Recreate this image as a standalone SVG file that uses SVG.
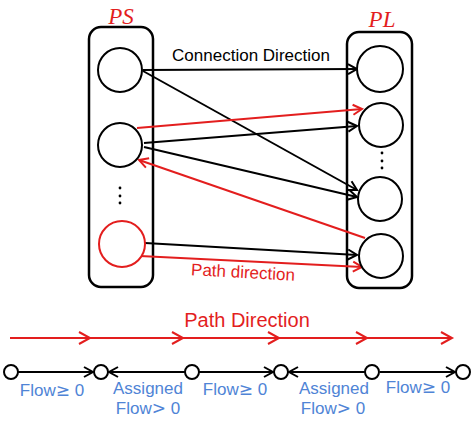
<svg xmlns="http://www.w3.org/2000/svg" width="474" height="423" viewBox="0 0 474 423">
<defs>
<style>
.box{fill:none;stroke:#000;stroke-width:2.5}
.nd{fill:#fff;stroke:#000;stroke-width:2}
.ndr{fill:#fff;stroke:#e31e1e;stroke-width:2}
.bk{stroke:#000;stroke-width:2;fill:none}
.rd{stroke:#e31e1e;stroke-width:2;fill:none}
.lbl{font-family:"Liberation Sans",Arial,sans-serif}
.blue{fill:#4f84d6;font-size:17px;text-anchor:middle}
.sym{font-family:"DejaVu Sans",sans-serif}
.math{font-family:"Liberation Serif","DejaVu Serif",serif;font-style:italic;fill:#e31e1e;font-size:23px;text-anchor:middle}
.dot{fill:#000}
</style>
<marker id="ab" markerUnits="userSpaceOnUse" markerWidth="14" markerHeight="14" refX="10" refY="6" orient="auto" viewBox="0 0 14 12">
<path d="M1,1 L10,6 L1,11" fill="none" stroke="#000" stroke-width="2"/>
</marker>
<marker id="ar" markerUnits="userSpaceOnUse" markerWidth="14" markerHeight="14" refX="10" refY="6" orient="auto" viewBox="0 0 14 12">
<path d="M1,1 L10,6 L1,11" fill="none" stroke="#e31e1e" stroke-width="2"/>
</marker>
<marker id="arb" markerUnits="userSpaceOnUse" markerWidth="16" markerHeight="16" refX="12" refY="7" orient="auto" viewBox="0 0 16 14">
<path d="M1,1 L12,7 L1,13" fill="none" stroke="#e31e1e" stroke-width="2"/>
</marker>
</defs>

<g id="PS">
<rect class="box" x="89" y="27" width="64" height="260" rx="12"/>
<text class="math" x="121" y="24">PS</text>
</g>
<g id="PL">
<rect class="box" x="347" y="32" width="65" height="256" rx="12"/>
<text class="math" x="382" y="27">PL</text>
</g>

<g id="connectors">
<line class="bk" x1="143" y1="70" x2="357" y2="69" marker-end="url(#ab)"/>
<line class="bk" x1="143" y1="71" x2="357" y2="190" marker-end="url(#ab)"/>
<line class="bk" x1="144" y1="143" x2="357" y2="126" marker-end="url(#ab)"/>
<line class="bk" x1="144" y1="147" x2="357" y2="197" marker-end="url(#ab)"/>
<line class="rd" x1="137" y1="128" x2="362" y2="109" marker-end="url(#ar)"/>
<line class="rd" x1="365" y1="238" x2="139" y2="160" marker-end="url(#ar)"/>
<line class="bk" x1="145" y1="243" x2="357" y2="255" marker-end="url(#ab)"/>
<line class="rd" x1="140" y1="256" x2="362" y2="267" marker-end="url(#ar)"/>
<g id="bottom-path">
<line class="rd" x1="10" y1="338" x2="90" y2="338" marker-end="url(#arb)"/>
<line class="rd" x1="90" y1="338" x2="183" y2="338" marker-end="url(#arb)"/>
<line class="rd" x1="183" y1="338" x2="279" y2="338" marker-end="url(#arb)"/>
<line class="rd" x1="279" y1="338" x2="367" y2="338" marker-end="url(#arb)"/>
<line class="rd" x1="367" y1="338" x2="452" y2="338" marker-end="url(#arb)"/>
</g>
<g id="bottom-flow">
<line class="bk" x1="18" y1="372" x2="93" y2="372" marker-end="url(#ab)"/>
<line class="bk" x1="185" y1="372" x2="109" y2="372" marker-end="url(#ab)"/>
<line class="bk" x1="199" y1="372" x2="273" y2="372" marker-end="url(#ab)"/>
<line class="bk" x1="365" y1="372" x2="289" y2="372" marker-end="url(#ab)"/>
<line class="bk" x1="380" y1="372" x2="455" y2="372" marker-end="url(#ab)"/>
</g>
</g>

<g id="ps1"><circle class="nd" cx="120" cy="70" r="22"/></g>
<g id="ps2"><circle class="nd" cx="120" cy="145" r="22"/></g>
<g id="ps-dots"><circle class="dot" cx="120" cy="188" r="1.4"/><circle class="dot" cx="120" cy="196" r="1.4"/><circle class="dot" cx="120" cy="203" r="1.4"/></g>
<g id="ps3"><circle class="ndr" cx="122" cy="244" r="23"/></g>

<g id="pl1"><circle class="nd" cx="380" cy="69" r="23"/></g>
<g id="pl2"><circle class="nd" cx="381" cy="125" r="22"/></g>
<g id="pl-dots"><circle class="dot" cx="382" cy="153" r="1.4"/><circle class="dot" cx="382" cy="161" r="1.4"/><circle class="dot" cx="382" cy="168" r="1.4"/></g>
<g id="pl3"><circle class="nd" cx="380" cy="199" r="22"/></g>
<g id="pl4"><circle class="nd" cx="381" cy="256" r="22"/></g>

<text class="lbl" x="251" y="61" font-size="17" text-anchor="middle" fill="#000">Connection Direction</text>
<text class="lbl" x="243" y="278" font-size="17" text-anchor="middle" fill="#e31e1e" transform="rotate(3 243 273)">Path direction</text>
<text class="lbl" x="247" y="327" font-size="20" text-anchor="middle" fill="#e31e1e">Path Direction</text>

<g id="n1"><circle class="nd" cx="11" cy="372" r="7"/></g>
<g id="n2"><circle class="nd" cx="101" cy="372" r="7"/></g>
<g id="n3"><circle class="nd" cx="192" cy="372" r="7"/></g>
<g id="n4"><circle class="nd" cx="281" cy="372" r="7"/></g>
<g id="n5"><circle class="nd" cx="372" cy="372" r="7"/></g>
<g id="n6"><circle class="nd" cx="463" cy="372" r="7"/></g>

<g class="lbl">
<text class="blue" x="52" y="396">Flow<tspan class="sym">≥</tspan> 0</text>
<text class="blue" x="148" y="394">Assigned</text>
<text class="blue" x="148" y="414">Flow<tspan class="sym">&gt;</tspan> 0</text>
<text class="blue" x="235" y="395">Flow<tspan class="sym">≥</tspan> 0</text>
<text class="blue" x="334" y="394">Assigned</text>
<text class="blue" x="333" y="414">Flow<tspan class="sym">&gt;</tspan> 0</text>
<text class="blue" x="418" y="393">Flow<tspan class="sym">≥</tspan> 0</text>
</g>
</svg>
